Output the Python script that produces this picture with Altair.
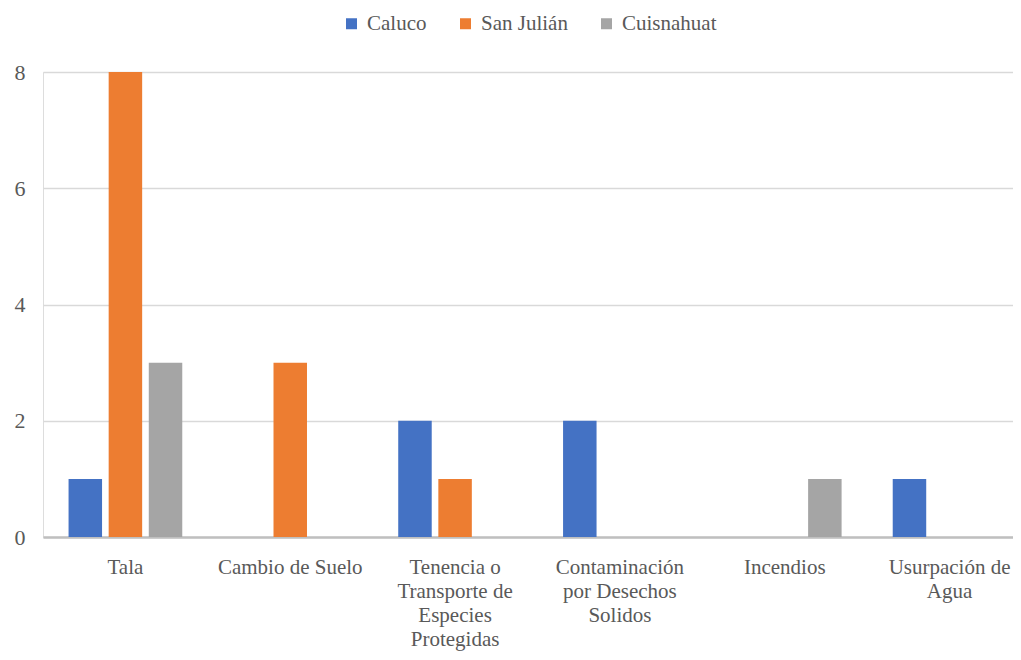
import altair as alt
import pandas as pd

categories = [
    "Tala",
    "Cambio de Suelo",
    "Tenencia o\nTransporte de\nEspecies\nProtegidas",
    "Contaminación\npor Desechos\nSolidos",
    "Incendios",
    "Usurpación de\nAgua",
]
series = ["Caluco", "San Julián", "Cuisnahuat"]
caluco = [1, 0, 2, 2, 0, 1]
san_julian = [8, 3, 1, 0, 0, 0]
cuisnahuat = [3, 0, 0, 0, 1, 0]
colors = ["#4472C4", "#ED7D31", "#A5A5A5"]

rows = []
for name, vals in zip(series, [caluco, san_julian, cuisnahuat]):
    for c, v in zip(categories, vals):
        rows.append({"cat": c, "serie": name, "valor": v})
df = pd.DataFrame(rows)

FONT = "Liberation Serif"

chart = alt.Chart(df).mark_bar().encode(
    x=alt.X(
        "cat:N",
        sort=categories,
        title=None,
        scale=alt.Scale(paddingInner=0.27, paddingOuter=0.135, range=[0, 989]),
        axis=alt.Axis(
            labelAngle=0,
            labelExpr="split(datum.label, '\\n')",
            labelFont=FONT,
            labelFontSize=21,
            labelColor="#595959",
            labelLineHeight=24,
            labelPadding=19,
            labelLimit=200,
            ticks=False,
            domainColor="#BFBFBF",
            domainWidth=2.5,
            grid=False,
        ),
    ),
    xOffset=alt.XOffset(
        "serie:N",
        sort=series,
        scale=alt.Scale(paddingInner=0.165, paddingOuter=0.0825),
    ),
    y=alt.Y(
        "valor:Q",
        title=None,
        scale=alt.Scale(domain=[0, 8]),
        axis=alt.Axis(
            values=[0, 2, 4, 6, 8],
            labelFont=FONT,
            labelFontSize=22,
            labelColor="#595959",
            labelPadding=18,
            ticks=False,
            domain=False,
            gridColor="#D9D9D9",
            gridWidth=1.5,
        ),
    ),
    color=alt.Color(
        "serie:N",
        sort=series,
        scale=alt.Scale(domain=series, range=colors),
        legend=alt.Legend(
            title=None,
            orient="none",
            direction="horizontal",
            legendX=298,
            legendY=-59,
            symbolType="square",
            symbolSize=121,
            symbolStrokeWidth=0,
            labelFont=FONT,
            labelFontSize=21,
            labelColor="#595959",
            labelOffset=5,
            columnPadding=28,
        ),
    ),
).properties(
    width=970,
    height=465,
    autosize=alt.AutoSizeParams(type="none"),
    padding={"left": 35, "top": 64, "right": 0, "bottom": 115},
).configure_view(stroke=None).configure(background="white")

chart.save("out.html", embed_options={"renderer": "svg", "actions": False})
